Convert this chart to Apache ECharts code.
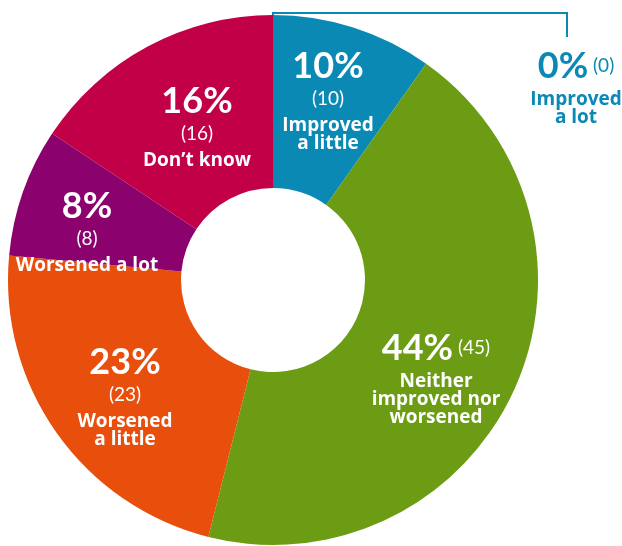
<!DOCTYPE html>
<html><head><meta charset="utf-8">
<script src="https://cdn.jsdelivr.net/npm/echarts@6/dist/echarts.min.js"></script>
<style>html,body{margin:0;padding:0;background:#fff}#c{width:622px;height:546px}</style>
</head><body><div id="c"></div>
<script>
const categories = ['Improved a lot','Improved a little','Neither improved nor worsened','Worsened a little','Worsened a lot','Don’t know'];
const counts = [0, 10, 45, 23, 8, 16];
const percents = [0, 10, 44, 23, 8, 16];
const labelLines = [['Improved','a lot'],['Improved','a little'],['Neither','improved nor','worsened'],['Worsened','a little'],['Worsened a lot'],['Don’t know']];

// styling (not data)
const colors = ['#0a89b4','#0a89b4','#6b9c14','#e84e0c','#8b016d','#c10047'];
const labelColors = ['#0a89b4','#fff','#fff','#fff','#fff','#fff'];
const inlineCount = [true,false,true,false,false,false];
const labelPos = [[576,41],[328,51],[436,323],[125,347],[87,191],[197,86]];
const CX = 273, CY = 280, R0 = 92, R1 = 265;

const chart = echarts.init(document.getElementById('c'), null, {renderer:'canvas'});
const font = 'Lato, "Open Sans", sans-serif';
const font2 = '"Open Sans", Lato, sans-serif';

const data = categories.map((name, i) => ({
  name, value: counts[i],
  itemStyle: {color: colors[i]},
  label: {color: labelColors[i]}
}));

function fmt(params) {
  const i = params.dataIndex;
  const lines = labelLines[i];
  let s;
  if (inlineCount[i]) {
    s = '{p|' + percents[i] + '%}{ni| (' + counts[i] + ')}';
  } else {
    s = '{p|' + percents[i] + '%}\n{n|(' + counts[i] + ')}';
  }
  lines.forEach(l => { s += '\n{c|' + l + '}'; });
  return s;
}

chart.setOption({
  animation: false,
  backgroundColor: '#fff',
  graphic: [{
    type: 'polyline', z: 0,
    shape: {points: [[CX, 22], [CX, 13], [567, 13], [567, 37]]},
    style: {stroke: '#0a89b4', lineWidth: 2, fill: null}
  }],
  series: [{
    type: 'pie',
    z: 2,
    center: [CX, CY],
    radius: [R0, R1],
    startAngle: 90,
    clockwise: true,
    silent: true,
    avoidLabelOverlap: false,
    minShowLabelAngle: -1,
    emphasis: {disabled: true},
    itemStyle: {borderWidth: 0},
    labelLine: {show: false},
    label: {
      show: true,
      position: 'inside',
      formatter: fmt,
      fontFamily: font,
      rich: {
        p: {fontSize: 36, fontWeight: 'bold', lineHeight: 30, fontFamily: font},
        n: {fontSize: 19, fontWeight: 'normal', lineHeight: 36, fontFamily: font},
        ni: {fontSize: 19, fontWeight: 'normal', lineHeight: 50, fontFamily: font},
        c: {fontSize: 19, fontWeight: 'bold', lineHeight: 18, fontFamily: font2}
      }
    },
    labelLayout: function (params) {
      const p = labelPos[params.dataIndex];
      return {x: p[0], y: p[1], align: 'center', verticalAlign: 'top'};
    },
    data: data
  }]
});
</script></body></html>
